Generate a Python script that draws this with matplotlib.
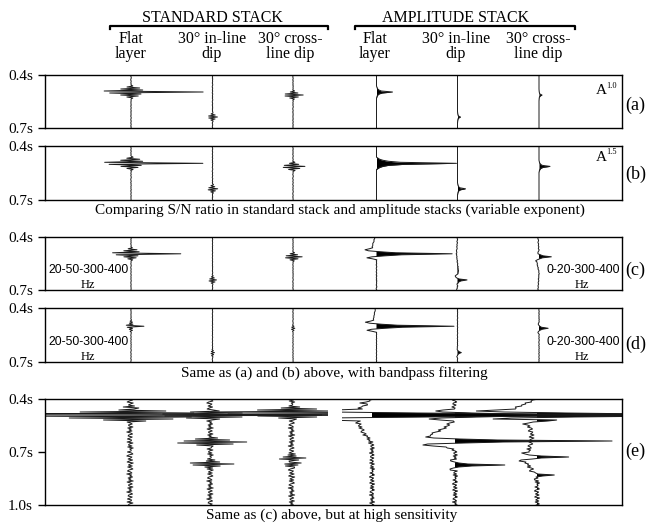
"""Wiggle displays: standard stack vs amplitude stack, five panels (a)-(e)."""
import matplotlib.pyplot as plt
import numpy as np
from matplotlib.patches import Rectangle

plt.rcParams["font.family"] = ["Liberation Serif", "DejaVu Serif"]

W, H = 647, 528
DT = 0.3 / 53          # seconds per display row

# wavelets sampled one row apart, peak at the middle sample
WAVELETS = {
    "flat": [0.03, -0.06, 0.12, -0.14, 0.16, -0.37, 1.0, -0.30, 0.14, -0.14, 0.10, -0.06, 0.03],
    "dip":  [0.15, -0.30, 0.50, -0.75, 1.0, -0.80, 0.55, -0.35, 0.15],
    "amp":  [0.02, 0.04, 0.08, 0.15, 0.30, 1.0, 0.35, 0.15, 0.08, 0.04, 0.02],
    "bp":   [-0.04, -0.10, -0.05, 0.10, 0.30, 1.0, 0.35, 0.12, -0.06, -0.12, -0.05],
}

# background noise samples (one per row), reused with a shift for each trace
NOISE = [0.3, -0.8, 0.5, 0.9, -0.4, -1.0, 0.6, 0.2, -0.6, 0.8, -0.2, -0.9, 1.0, 0.1,
         -0.5, 0.7, -0.7, 0.4, 0.9, -0.3, -0.8, 0.2, 0.6, -1.0, 0.5, -0.1, 0.8, -0.6,
         0.3, -0.4, 1.0, -0.9, 0.1, 0.7, -0.5, -0.2, 0.9, -0.7, 0.4, -0.3, 0.6, -1.0,
         0.2, 0.8, -0.4, -0.6, 0.7, 0.0, -0.8, 0.5, 0.3, -0.9, 0.9, -0.2, -0.5, 0.6,
         -0.7, 1.0, -0.1, 0.4]

COLUMNS = [("Flat", "layer"), ("30° in-line", "dip"), ("30° cross-", "line dip")]

# events per trace: (time s, amplitude in display px, wavelet)
# order: standard flat, in-line, cross-line, amplitude flat, in-line, cross-line
EVENTS_A = [[(0.494, 72, "flat")], [(0.636, 5, "dip")], [(0.516, 10, "dip")],
            [(0.494, 16, "amp")], [(0.636, 3, "amp")], [(0.513, 3, "amp")]]
EVENTS_B = [[(0.496, 72, "flat")], [(0.640, 5, "dip")], [(0.511, 12, "dip")],
            [(0.496, 80, "amp")], [(0.640, 8, "amp")], [(0.513, 11, "amp")]]
EVENTS_C = [[(0.494, 50, "flat")], [(0.644, 4, "dip")], [(0.513, 9, "dip")],
            [(0.494, 78, "bp")], [(0.644, 10, "bp")], [(0.513, 13, "bp")]]
EVENTS_D = [[(0.500, 13, "flat")], [(0.651, 2, "dip")], [(0.512, 2, "dip")],
            [(0.500, 80, "bp")], [(0.650, 4, "bp")], [(0.512, 9, "bp")]]
EVENTS_E = [[(0.462, 15, "dip"), (0.490, 420, "flat")],
            [(0.490, 60, "dip"), (0.645, 38, "dip"), (0.770, 22, "dip")],
            [(0.480, 220, "flat"), (0.735, 15, "dip"), (0.760, 10, "dip")],
            [(0.490, 600, "bp")],
            [(0.490, 200, "bp"), (0.638, 157, "bp"), (0.772, 48, "bp")],
            [(0.490, 420, "bp"), (0.519, 50, "bp"), (0.726, 46, "bp"), (0.830, 18, "bp")]]

# slow baseline wander of the amplitude-stack traces: (time s, shift px)
DRIFT_C = [[(0.40, -1.5), (0.45, -4), (0.49, -4), (0.51, 0), (0.70, 0)],
           [(0.40, 0), (0.50, -1), (0.60, 1), (0.63, -2), (0.66, 1), (0.70, -1)],
           [(0.40, -1), (0.50, 0), (0.55, -2), (0.60, 0), (0.70, -1)]]
DRIFT_D = [[(0.40, -1), (0.46, -3), (0.50, -3), (0.52, 0), (0.70, 0)],
           [(0.40, 0), (0.70, 0)],
           [(0.40, 0), (0.70, 0)]]
DRIFT_E = [[(0.40, 3), (0.423, -10), (0.434, -4), (0.445, -12), (0.536, -14),
            (0.587, -9), (0.621, -4), (0.66, 0), (1.0, 0)],
           [(0.40, 0), (0.53, -3), (0.57, -12), (0.60, -25), (0.625, -10), (0.64, 0),
            (0.655, -18), (0.675, -8), (0.69, 0), (1.0, 0)],
           [(0.40, 0), (0.41, -5), (0.46, -25), (0.47, -15), (0.50, -8), (0.55, -8),
            (0.60, -5), (0.70, -8), (0.72, -12), (0.75, -12), (0.80, -5), (0.85, 0),
            (1.0, 0)]]

X_LEFT, X_RIGHT = 45.5, 621.7
STD_X = [131, 212.5, 293]
AMP_X = [376.5, 457.5, 539]
STD_X_E = [130, 210, 291.5]
AMP_X_E = [372, 455, 537]

# (events, drift, std noise, amp noise, t_bottom, top px, bottom px, traces x)
PANELS = [
    (EVENTS_A, None, 0.3, 0.0, 0.7, 75, 128, STD_X + AMP_X),
    (EVENTS_B, None, 0.3, 0.0, 0.7, 146, 200, STD_X + AMP_X),
    (EVENTS_C, DRIFT_C, 0.25, 0.4, 0.7, 236.7, 290, STD_X + AMP_X),
    (EVENTS_D, DRIFT_D, 0.25, 0.25, 0.7, 308, 361.7, STD_X + AMP_X),
    (EVENTS_E, DRIFT_E, 3.2, 2.6, 1.0, 399, 505, STD_X_E + AMP_X_E),
]


def build_trace(t, events, drift, noise_scale, shift):
    x = np.zeros(len(t))
    if drift:
        dt_, dx_ = zip(*drift)
        x += np.interp(t, dt_, dx_)
    x += noise_scale * np.resize(np.roll(NOISE, shift), len(t))
    for t0, amp, kind in events:
        wav = WAVELETS[kind]
        i0 = int(round((t0 - t[0]) / DT)) - len(wav) // 2
        for k, v in enumerate(wav):
            if 0 <= i0 + k < len(t):
                x[i0 + k] += amp * v
    return x


fig = plt.figure(figsize=(W / 100, H / 100), dpi=100)


def ftext(x, y, s, **kw):
    fig.text(x / W, 1 - y / H, s, **kw)


for p, (events, drift, nstd, namp, t_bot, top, bot, xs) in enumerate(PANELS):
    ax = fig.add_axes([X_LEFT / W, 1 - bot / H, (X_RIGHT - X_LEFT) / W, (bot - top) / H])
    t = 0.4 + DT * np.arange(int(round((t_bot - 0.4) / DT)) + 1)
    left_clip = Rectangle((X_LEFT, 0.4), 328 - X_LEFT, t_bot - 0.4, transform=ax.transData)
    right_clip = Rectangle((342, 0.4), X_RIGHT - 342, t_bot - 0.4, transform=ax.transData)
    for i in range(6):
        is_amp = i >= 3
        dr = drift[i - 3] if (is_amp and drift) else None
        x = build_trace(t, events[i], dr, namp if is_amp else nstd, 7 * i + 13 * p)
        x0 = xs[i]
        clip = right_clip if is_amp else left_clip
        line, = ax.plot(x0 + x, t, color="#1a1a1a", lw=0.7)
        line.set_clip_path(clip)
        if is_amp:
            fill = ax.fill_betweenx(t, x0, x0 + x, where=x > 0, color="black",
                                    lw=0, interpolate=True)
            fill.set_clip_path(clip)
    ax.set_xlim(X_LEFT, X_RIGHT)
    ax.set_ylim(t_bot, 0.4)
    ticks = [0.4, 0.7] if t_bot < 0.8 else [0.4, 0.7, 1.0]
    ax.set_yticks(ticks)
    ax.set_yticklabels([f"{v:.1f}s" for v in ticks], fontsize=11)
    ax.set_xticks([])
    ax.tick_params(axis="y", direction="out", length=5, width=1.0, pad=4)
    for sp in ax.spines.values():
        sp.set_linewidth(1.0)

# column headers and brackets
ftext(212, 18, "STANDARD STACK", ha="center", va="center", fontsize=11.5)
ftext(456, 18, "AMPLITUDE STACK", ha="center", va="center", fontsize=11.5)
for xa, xb in [(110, 328), (355, 575)]:
    fig.add_artist(plt.Line2D([xa / W, xa / W, xb / W, xb / W],
                              [1 - 29 / H, 1 - 25.5 / H, 1 - 25.5 / H, 1 - 29 / H],
                              color="black", lw=1.6, transform=fig.transFigure))
for xc, (l1, l2) in zip([131, 212, 290, 375, 456, 538], COLUMNS * 2):
    ftext(xc, 43, l1, ha="center", va="baseline", fontsize=11.5)
    ftext(xc, 58, l2, ha="center", va="baseline", fontsize=11.5)

# exponents and panel letters
for y_base, expo in [(94, "1.0"), (161, "1.5")]:
    ftext(596, y_base, "A", ha="left", va="baseline", fontsize=11)
    ftext(606.5, y_base - 6.5, expo, ha="left", va="baseline", fontsize=6)
for y, lab in [(105, "(a)"), (174, "(b)"), (270, "(c)"), (344, "(d)"), (451, "(e)")]:
    ftext(625, y, lab, ha="left", va="center", fontsize=13)

# filter passbands
for yc in [270, 341.7]:
    ftext(88.5, yc, "20-50-300-400", ha="center", va="center", fontsize=8.8,
          family="Liberation Sans")
    ftext(88, yc + 15, "Hz", ha="center", va="center", fontsize=9)
    ftext(583, yc, "0-20-300-400", ha="center", va="center", fontsize=8.8,
          family="Liberation Sans")
    ftext(582, yc + 15, "Hz", ha="center", va="center", fontsize=9)

# captions
ftext(340, 210, "Comparing S/N ratio in standard stack and amplitude stacks (variable exponent)",
      ha="center", va="center", fontsize=11)
ftext(334.5, 373, "Same as (a) and (b) above, with bandpass filtering",
      ha="center", va="center", fontsize=11)
ftext(332, 515, "Same as (c) above, but at high sensitivity",
      ha="center", va="center", fontsize=11)

fig.savefig("out.png", dpi=100)
